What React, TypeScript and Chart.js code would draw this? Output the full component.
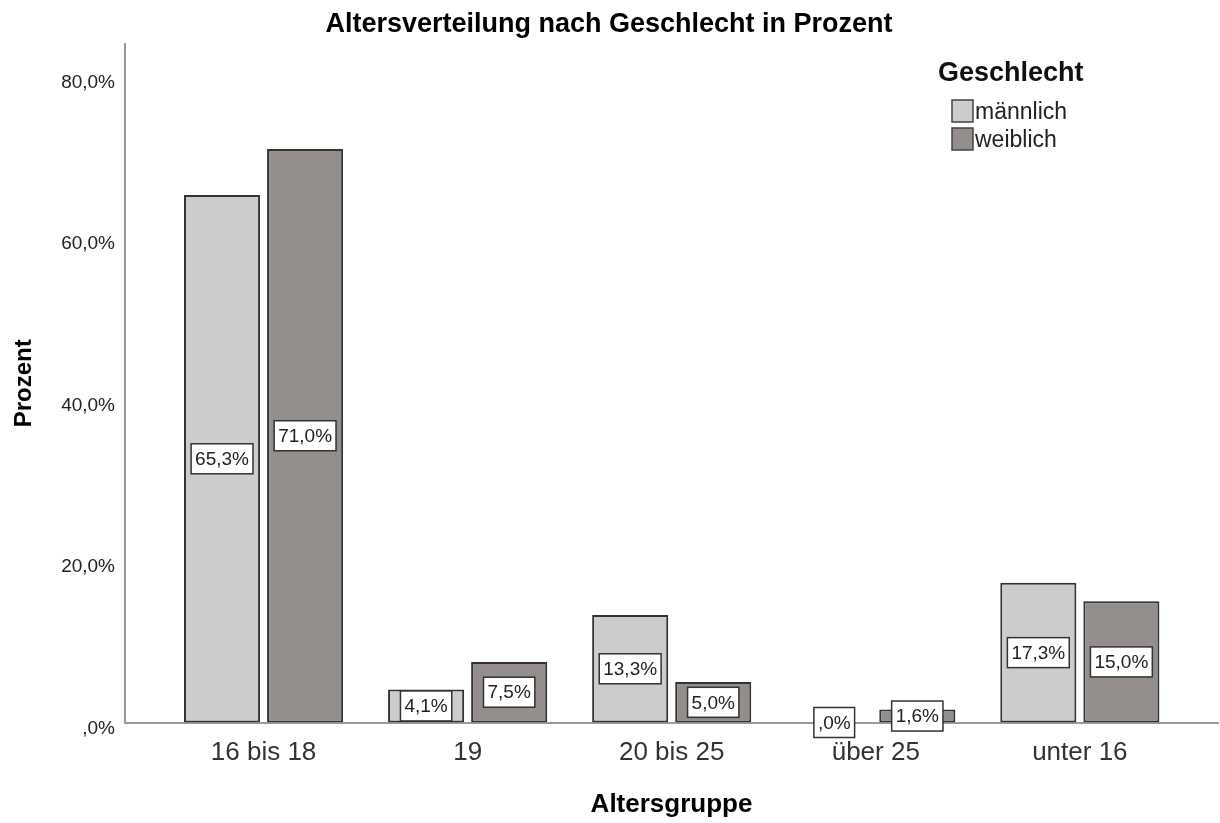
import { useEffect, useRef } from "react";
import { Chart, registerables } from "chart.js";

Chart.register(...registerables);

const categories = ["16 bis 18", "19", "20 bis 25", "über 25", "unter 16"];
const maleValues = [65.3, 4.1, 13.3, 0.0, 17.3];
const femaleValues = [71.0, 7.5, 5.0, 1.6, 15.0];
const seriesNames = ["männlich", "weiblich"];
const yTicks = [0, 20, 40, 60, 80];
const titleText = "Altersverteilung nach Geschlecht in Prozent";
const legendTitle = "Geschlecht";
const xTitle = "Altersgruppe";
const yTitle = "Prozent";

const FONT = "'Liberation Sans', Arial, Helvetica, sans-serif";
const fmt = (v: number) => (v === 0 ? ",0%" : v.toFixed(1).replace(".", ",") + "%");

const barLabelPlugin = {
  id: "barLabels",
  afterDatasetsDraw(chart: any) {
    const ctx = chart.ctx;
    ctx.save();
    ctx.font = `19px ${FONT}`;
    ctx.textAlign = "center";
    ctx.textBaseline = "middle";
    chart.data.datasets.forEach((ds: any, di: number) => {
      const meta = chart.getDatasetMeta(di);
      meta.data.forEach((el: any, i: number) => {
        const v = ds.data[i].y;
        const text = fmt(v);
        const { x, y, base } = el.getProps(["x", "y", "base"], true);
        const cy = (y + base) / 2;
        const w = ctx.measureText(text).width + 8;
        const h = 30;
        ctx.fillStyle = "#ffffff";
        ctx.fillRect(x - w / 2, cy - h / 2, w, h);
        ctx.strokeStyle = "#333333";
        ctx.lineWidth = 1.5;
        ctx.strokeRect(x - w / 2, cy - h / 2, w, h);
        ctx.fillStyle = "#222222";
        ctx.fillText(text, x, cy + 1);
      });
    });
    ctx.restore();
  },
};

const legendPlugin = {
  id: "customLegend",
  afterDraw(chart: any) {
    const ctx = chart.ctx;
    const area = chart.chartArea;
    const left = area.right - 280;
    const top = area.top;
    ctx.save();
    ctx.fillStyle = "#111111";
    ctx.textAlign = "left";
    ctx.textBaseline = "middle";
    ctx.font = `bold 27px ${FONT}`;
    ctx.fillText(legendTitle, left, top + 30);
    ctx.font = `23px ${FONT}`;
    chart.data.datasets.forEach((ds: any, i: number) => {
      const by = top + 56 + i * 28;
      ctx.fillStyle = ds.backgroundColor;
      ctx.fillRect(left + 14, by, 21, 22);
      ctx.strokeStyle = "#444444";
      ctx.lineWidth = 1.5;
      ctx.strokeRect(left + 14, by, 21, 22);
      ctx.fillStyle = "#222222";
      ctx.fillText(ds.label, left + 37, by + 13);
    });
    ctx.restore();
  },
};

export default function App() {
  const ref = useRef<HTMLCanvasElement>(null);
  useEffect(() => {
    if (!ref.current) return;
    const chart = new Chart(ref.current, {
      type: "bar",
      data: {
        datasets: [
          {
            label: seriesNames[0],
            data: maleValues.map((v, i) => ({ x: i, y: v })),
            backgroundColor: "#cccccc",
            borderColor: "#333333",
            borderWidth: 2,
            borderSkipped: false,
          },
          {
            label: seriesNames[1],
            data: femaleValues.map((v, i) => ({ x: i, y: v })),
            backgroundColor: "#938e8c",
            borderColor: "#333333",
            borderWidth: 2,
            borderSkipped: false,
          },
        ],
      },
      options: {
        responsive: false,
        animation: false,
        categoryPercentage: 0.814,
        barPercentage: 0.916,
        layout: { padding: { left: 0, right: 2, top: 0, bottom: 0 } },
        plugins: {
          legend: { display: false },
          tooltip: { enabled: false },
          title: {
            display: true,
            text: titleText,
            color: "#000000",
            font: { family: FONT, size: 27, weight: "bold" },
            padding: { top: 8, bottom: 3.6 },
          },
        },
        scales: {
          x: {
            type: "linear",
            offset: false,
            min: -0.679,
            max: 4.677,
            grid: { display: false, drawTicks: false, offset: false },
            border: { display: true, color: "#9a9a9a", width: 2 },
            afterBuildTicks: (scale: any) => {
              scale.ticks = categories.map((_, i) => ({ value: i }));
            },
            afterFit: (scale: any) => {
              scale.height = 100.5;
            },
            ticks: {
              color: "#333333",
              font: { family: FONT, size: 26 },
              padding: 15,
              maxRotation: 0,
              autoSkip: false,
              callback: (v: any) => categories[Math.round(Number(v))] ?? "",
            },
            title: {
              display: true,
              text: xTitle,
              color: "#000000",
              font: { family: FONT, size: 26, weight: "bold" },
              padding: { top: 0, bottom: 3 },
            },
          },
          y: {
            type: "linear",
            min: 0,
            max: 84,
            grid: { display: false, drawTicks: false },
            border: { display: true, color: "#9a9a9a", width: 2 },
            afterBuildTicks: (scale: any) => {
              scale.ticks = yTicks.map((v) => ({ value: v }));
            },
            afterFit: (scale: any) => {
              scale.width = 125;
            },
            ticks: {
              color: "#222222",
              font: { family: FONT, size: 19 },
              padding: 10,
              labelOffset: 6,
              callback: (v: any) => fmt(Number(v)),
            },
            title: {
              display: true,
              text: yTitle,
              color: "#000000",
              font: { family: FONT, size: 24, weight: "bold" },
              padding: { top: 10, bottom: 0 },
            },
          },
        },
      },
      plugins: [barLabelPlugin, legendPlugin],
    } as any);
    return () => chart.destroy();
  }, []);
  return (
    <div style={{ position: "fixed", left: 0, top: 0, width: 1220, height: 823, background: "#fff" }}>
      <canvas ref={ref} width={1220} height={823} style={{ display: "block" }} />
    </div>
  );
}
